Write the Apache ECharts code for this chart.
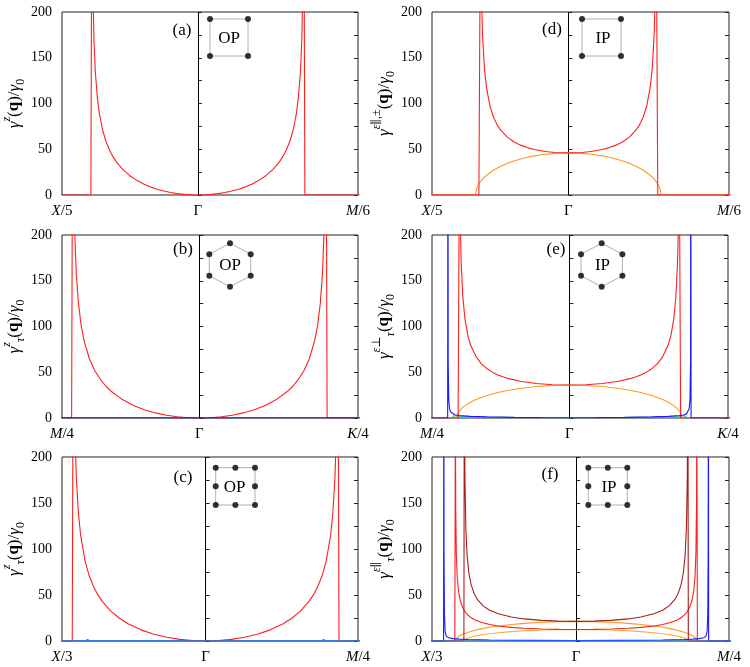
<!DOCTYPE html>
<html><head><meta charset="utf-8">
<script src="https://cdn.jsdelivr.net/npm/echarts@6/dist/echarts.min.js"></script>
<style>html,body{margin:0;padding:0;background:#fff}#c{width:750px;height:667px}</style>
</head><body><div id="c"></div>
<script>
// ---------- DATA (|q| in units of pi/a for square, |GM| for hex; value gamma/gamma0) ----------
// x-axis ranges and tick labels
const xRangeA = [-0.2, 0.2357];      // X/5 .. M/6
const xRangeB = [-0.25, 0.2887];     // M/4 .. K/4
const xRangeC = [-0.3333, 0.3536];   // X/3 .. M/4
const xTicksA = ['X/5', 'Γ', 'M/6'];
const xTicksB = ['M/4', 'Γ', 'K/4'];
const xTicksC = ['X/3', 'Γ', 'M/4'];
const yTicks = [0, 50, 100, 150, 200];

// (a) OP square, red
const qA_red = [0, 0.01, 0.02, 0.03, 0.04, 0.05, 0.06, 0.07, 0.08, 0.09, 0.10, 0.11, 0.12, 0.125, 0.13, 0.135, 0.14, 0.145, 0.148, 0.151, 0.153, 0.155, 0.156, 0.1575, 0.26];
const gA_red = [0, 0.16, 0.65, 1.5, 2.7, 4.3, 6.3, 8.9, 12.1, 16.0, 21.1, 27.5, 36.2, 41.9, 49, 57.9, 70.2, 89, 107, 135, 170, 247, 350, 0, 0];

// (b) OP hex, red + blue
const qB_red = [0, 0.02, 0.04, 0.06, 0.08, 0.10, 0.12, 0.14, 0.16, 0.17, 0.18, 0.19, 0.20, 0.21, 0.215, 0.22, 0.224, 0.227, 0.229, 0.2305, 0.2325, 0.3];
const gB_red = [0, 0.33, 1.33, 3.05, 5.57, 9.06, 13.75, 20.1, 28.9, 34.7, 42.0, 51.4, 64.5, 84.8, 100.6, 124.7, 157.5, 204, 267, 382, 0, 0];
const qB_blue = [0, 0.3];
const gB_blue = [0, 0];

// (c) OP square (8-atom cell), red + blue + light blue
const qC_red = [0, 0.03, 0.06, 0.09, 0.12, 0.15, 0.18, 0.20, 0.22, 0.24, 0.25, 0.26, 0.27, 0.28, 0.29, 0.295, 0.30, 0.303, 0.305, 0.307, 0.3095, 0.4];
const gC_red = [0, 0.43, 1.73, 4.0, 7.4, 12.1, 18.8, 24.7, 32.5, 43.1, 50.1, 59.0, 70.6, 87.3, 114.8, 137.8, 177, 220, 273, 391, 0, 0];
const qC_blue = [0, 0.4];
const gC_blue = [0, 0];
const qC_lblue = [0, 0.268, 0.274, 0.28, 0.4];
const gC_lblue = [0, 0, 1.8, 0, 0];

// (d) IP square, red (perp) + orange (par)
const qD_red = [0, 0.01, 0.02, 0.03, 0.04, 0.05, 0.06, 0.07, 0.08, 0.09, 0.10, 0.105, 0.11, 0.115, 0.12, 0.123, 0.126, 0.128, 0.129, 0.1312, 0.26];
const gD_red = [46, 46.1, 46.5, 47.3, 48.3, 49.8, 51.8, 54.5, 58.2, 63.5, 71.6, 77.5, 85.5, 97.3, 117, 137.6, 177, 237, 304, 0, 0];
const qD_orange = [0, 0.02, 0.04, 0.05, 0.06, 0.07, 0.08, 0.09, 0.10, 0.11, 0.12, 0.125, 0.13, 0.133, 0.135, 0.136, 0.26];
const gD_orange = [46, 45.5, 44.0, 42.8, 41.3, 39.4, 37.2, 34.5, 31.2, 27.0, 21.6, 18.1, 13.5, 9.6, 5.6, 0, 0];

// (e) IP hex, red + orange + blue + cyan
const qE_red = [0, 0.03, 0.06, 0.09, 0.11, 0.12, 0.13, 0.14, 0.15, 0.16, 0.17, 0.18, 0.185, 0.19, 0.194, 0.197, 0.199, 0.2, 0.2025, 0.3];
const gE_red = [36, 36.4, 37.7, 40.2, 43.0, 44.8, 47.1, 50.1, 53.9, 59.2, 67.1, 80.0, 90.8, 108, 133.5, 172, 229, 296, 0, 0];
const qE_orange = [0, 0.03, 0.06, 0.09, 0.11, 0.13, 0.15, 0.16, 0.17, 0.18, 0.19, 0.195, 0.2, 0.203, 0.205, 0.2055, 0.3];
const gE_orange = [36, 35.6, 34.4, 32.3, 30.4, 27.8, 24.5, 22.5, 20.1, 17.2, 13.5, 11.1, 7.9, 5.0, 3.0, 0, 0];
const qE_blue = [0, 0.05, 0.1, 0.15, 0.18, 0.2, 0.208, 0.213, 0.216, 0.218, 0.2195, 0.2205, 0.221, 0.2215, 0.3];
const gE_blue = [0.3, 0.4, 0.7, 1.2, 1.8, 2.7, 3.3, 4.5, 6.5, 10, 20, 60, 400, 0, 0];
const qE_cyan = [0, 0.1, 0.17, 0.2, 0.21, 0.215, 0.3];
const gE_cyan = [0.2, 0.5, 1.0, 1.8, 2.5, 0, 0];

// (f) IP square (8-atom cell), red + dark red + two oranges + blue + light blue
const qF_red = [0, 0.04, 0.08, 0.12, 0.15, 0.18, 0.2, 0.22, 0.235, 0.245, 0.255, 0.262, 0.268, 0.272, 0.275, 0.277, 0.2785, 0.2792, 0.2805, 0.4];
const gF_red = [12.5, 12.6, 13.05, 13.8, 14.8, 16.3, 17.9, 20.3, 23.1, 26.0, 30.5, 35.9, 44.0, 54.3, 69.9, 93.7, 147, 270, 0, 0];
const qF_dred = [0, 0.04, 0.08, 0.12, 0.15, 0.18, 0.2, 0.215, 0.228, 0.236, 0.243, 0.248, 0.252, 0.255, 0.257, 0.258, 0.2585, 0.2595, 0.4];
const gF_dred = [21.3, 21.6, 22.4, 24.0, 26.1, 29.6, 33.5, 38.2, 44.9, 51.7, 61.6, 73.9, 92.2, 121.8, 171.6, 242.6, 343, 0, 0];
const qF_orange1 = [0, 0.04, 0.08, 0.12, 0.15, 0.18, 0.2, 0.22, 0.24, 0.255, 0.265, 0.272, 0.277, 0.2795, 0.4];
const gF_orange1 = [21.3, 21.1, 20.4, 19.2, 18.0, 16.3, 14.9, 13.2, 10.9, 8.7, 6.8, 4.9, 2.9, 0, 0];
const qF_orange2 = [0, 0.04, 0.08, 0.12, 0.15, 0.18, 0.2, 0.22, 0.235, 0.245, 0.252, 0.256, 0.2585, 0.259, 0.4];
const gF_orange2 = [12.5, 12.35, 11.9, 11.1, 10.2, 9.0, 7.9, 6.6, 5.3, 4.0, 2.9, 1.9, 0.8, 0, 0];
const qF_blue = [0, 0.1, 0.2, 0.25, 0.27, 0.285, 0.295, 0.3, 0.303, 0.3045, 0.3055, 0.306, 0.3065, 0.4];
const gF_blue = [0.5, 0.7, 1.1, 1.6, 2.0, 2.6, 3.5, 5, 10, 30, 100, 400, 0, 0];
const qF_lblue = [0, 0.4];
const gF_lblue = [0, 0];

// insets (lattice sketches)
const sqOutline = [[0,0],[1,0],[1,1],[0,1],[0,0]];
const sqDots = [[0,0],[1,0],[1,1],[0,1]];
const hexOutline = [[0,1],[0.866,0.5],[0.866,-0.5],[0,-1],[-0.866,-0.5],[-0.866,0.5],[0,1]];
const hexDots = [[0,1],[0.866,0.5],[0.866,-0.5],[0,-1],[-0.866,-0.5],[-0.866,0.5]];
const sq8Outline = [[0,0],[2,0],[2,2],[0,2],[0,0]];
const sq8Dots = [[0,0],[1,0],[2,0],[0,1],[2,1],[0,2],[1,2],[2,2]];

// ---------- BUILD ----------
const SERIF = "'Liberation Serif','DejaVu Serif',serif";
const RED = '#ff1f1f', ORANGE = '#ff9a20', DRED = '#a81c1c', BLUE = '#1a1aff', LBLUE = '#1e90ff', CYAN = '#20d0d0';

function mirror(qs, vs) {
  const out = [];
  for (let i = qs.length - 1; i >= 0; i--) if (qs[i] !== 0) out.push([-qs[i], vs[i]]);
  for (let i = 0; i < qs.length; i++) out.push([qs[i], vs[i]]);
  return out;
}

const LH = 26;
const rich = {
  g: {fontFamily: SERIF, fontStyle: 'italic', fontSize: 17, color: '#000', lineHeight: LH},
  n: {fontFamily: SERIF, fontSize: 17, color: '#000', lineHeight: LH},
  b: {fontFamily: SERIF, fontSize: 17, fontWeight: 'bold', color: '#000', lineHeight: LH},
  sup: {fontFamily: SERIF, fontStyle: 'italic', fontSize: 12, color: '#000', verticalAlign: 'top', lineHeight: LH},
  supn: {fontFamily: SERIF, fontSize: 12, color: '#000', verticalAlign: 'top', lineHeight: LH},
  sub: {fontFamily: SERIF, fontStyle: 'italic', fontSize: 12, color: '#000', verticalAlign: 'bottom', lineHeight: LH},
  subn: {fontFamily: SERIF, fontSize: 12, color: '#000', verticalAlign: 'bottom', lineHeight: LH}
};
const xrich = {
  i: {fontFamily: SERIF, fontStyle: 'italic', fontSize: 15, color: '#000'},
  n: {fontFamily: SERIF, fontSize: 15, color: '#000'}
};

const panels = [
  {grid: {left: 62, top: 12, width: 296, height: 183}, xr: xRangeA, xt: xTicksA,
   yname: '{g|γ}{sup|z}{n|(}{b|q}{n|)/}{g|γ}{subn|0}', label: '(a)', lpos: [182, 31],
   inset: {grid: {left: 210, top: 19, width: 38, height: 37}, xr: [0,1], yr: [0,1], outline: sqOutline, dots: sqDots, text: 'OP', tpos: [229, 39]},
   curves: [[qA_red, gA_red, RED]]},
  {grid: {left: 432, top: 12, width: 297, height: 183}, xr: xRangeA, xt: xTicksA,
   yname: '{g|γ}{sup|ε}{supn|∥,±}{n|(}{b|q}{n|)/}{g|γ}{subn|0}', label: '(d)', lpos: [552, 30],
   inset: {grid: {left: 582, top: 19, width: 39, height: 37}, xr: [0,1], yr: [0,1], outline: sqOutline, dots: sqDots, text: 'IP', tpos: [603, 39]},
   curves: [[qD_orange, gD_orange, ORANGE], [qD_red, gD_red, RED]]},
  {grid: {left: 62, top: 235, width: 296, height: 183}, xr: xRangeB, xt: xTicksB,
   yname: '{g|γ}{sup|z}{sub|τ}{n|(}{b|q}{n|)/}{g|γ}{subn|0}', label: '(b)', lpos: [183, 250],
   inset: {grid: {left: 206.1, top: 243.3, width: 47.8, height: 43.4}, xr: [-1,1], yr: [-1,1], outline: hexOutline, dots: hexDots, text: 'OP', tpos: [230, 266]},
   curves: [[qB_red, gB_red, RED], [qB_blue, gB_blue, '#0000c8']]},
  {grid: {left: 432, top: 235, width: 296, height: 183}, xr: xRangeB, xt: xTicksB,
   yname: '{g|γ}{sup|ε}{supn|⊥}{sub|τ}{n|(}{b|q}{n|)/}{g|γ}{subn|0}', label: '(e)', lpos: [556, 250],
   inset: {grid: {left: 577.8, top: 243.3, width: 47.8, height: 43.4}, xr: [-1,1], yr: [-1,1], outline: hexOutline, dots: hexDots, text: 'IP', tpos: [602.5, 266]},
   curves: [[qE_cyan, gE_cyan, CYAN], [qE_orange, gE_orange, ORANGE], [qE_red, gE_red, RED], [qE_blue, gE_blue, BLUE]]},
  {grid: {left: 62, top: 457, width: 296, height: 184}, xr: xRangeC, xt: xTicksC,
   yname: '{g|γ}{sup|z}{sub|τ}{n|(}{b|q}{n|)/}{g|γ}{subn|0}', label: '(c)', lpos: [183, 478],
   inset: {grid: {left: 215.7, top: 467.7, width: 39.3, height: 37.3}, xr: [0,2], yr: [0,2], outline: sq8Outline, dots: sq8Dots, text: 'OP', tpos: [234.5, 487.5]},
   curves: [[qC_red, gC_red, RED], [qC_blue, gC_blue, '#2a3acc'], [qC_lblue, gC_lblue, LBLUE]]},
  {grid: {left: 432, top: 457, width: 297, height: 184}, xr: xRangeC, xt: xTicksC,
   yname: '{g|γ}{sup|ε}{supn|∥}{sub|τ}{n|(}{b|q}{n|)/}{g|γ}{subn|0}', label: '(f)', lpos: [550, 475],
   inset: {grid: {left: 588.3, top: 467.7, width: 39, height: 37.3}, xr: [0,2], yr: [0,2], outline: sq8Outline, dots: sq8Dots, text: 'IP', tpos: [609, 487.5]},
   curves: [[qF_orange2, gF_orange2, '#ffb030'], [qF_orange1, gF_orange1, ORANGE], [qF_red, gF_red, RED], [qF_dred, gF_dred, DRED], [qF_blue, gF_blue, BLUE], [qF_lblue, gF_lblue, LBLUE]]}
];

const option = {animation: false, backgroundColor: '#fff', grid: [], xAxis: [], yAxis: [], series: [], graphic: []};

panels.forEach((p, i) => {
  option.grid.push(Object.assign({show: true, borderColor: '#222', borderWidth: 1, containLabel: false}, p.grid));
  const [xmin, xmax] = p.xr;
  option.xAxis.push({
    type: 'value', gridIndex: i, min: xmin, max: xmax,
    axisLine: {show: false}, axisTick: {show: false}, splitLine: {show: false},
    axisLabel: {
      customValues: [xmin, 0, xmax], showMinLabel: true, showMaxLabel: true, margin: 9,
      rich: xrich,
      formatter: v => {
        const t = Math.abs(v - xmin) < 1e-9 ? p.xt[0] : (Math.abs(v) < 1e-9 ? p.xt[1] : p.xt[2]);
        if (t === 'Γ') return '{n|Γ}';
        return '{i|' + t[0] + '}{n|' + t.slice(1) + '}';
      }
    }
  });
  const yCommon = {type: 'value', gridIndex: i, min: 0, max: 200, interval: 25, splitLine: {show: false},
    axisLine: {show: false}, axisTick: {show: true, inside: true, length: 4, lineStyle: {color: '#222'}}};
  option.yAxis.push(Object.assign({}, yCommon, {
    position: 'left',
    axisLabel: {fontFamily: SERIF, fontSize: 14, color: '#000', margin: 10,
      formatter: v => yTicks.indexOf(v) >= 0 ? String(v) : ''},
    name: p.yname, nameLocation: 'middle', nameRotate: 90, nameGap: 34,
    nameTextStyle: {rich: rich}
  }));
  option.yAxis.push(Object.assign({}, yCommon, {position: 'right', axisLabel: {show: false}}));
  p.curves.forEach((c, k) => {
    const s = {
      type: 'line', xAxisIndex: i, yAxisIndex: 2 * i, data: mirror(c[0], c[1]),
      showSymbol: false, symbol: 'none', smooth: false, clip: true, silent: true,
      lineStyle: {color: c[2], width: 1.1}, z: 3 + k
    };
    if (k === 0) {
      s.markLine = {silent: true, symbol: 'none', label: {show: false}, animation: false,
        lineStyle: {color: '#000', width: 1, type: 'solid'}, data: [{xAxis: 0}], z: 2};
    }
    option.series.push(s);
  });
  option.graphic.push({type: 'text', x: p.lpos[0], y: p.lpos[1], z: 100,
    style: {text: p.label, font: '17px ' + SERIF, fill: '#000', align: 'center', verticalAlign: 'middle'}});
});

panels.forEach((p, i) => {
  const gi = panels.length + i;
  const ins = p.inset;
  option.grid.push(Object.assign({show: false}, ins.grid));
  option.xAxis.push({type: 'value', gridIndex: gi, min: ins.xr[0], max: ins.xr[1], show: false});
  option.yAxis.push({type: 'value', gridIndex: gi, min: ins.yr[0], max: ins.yr[1], show: false});
  const xi = option.xAxis.length - 1, yi = option.yAxis.length - 1;
  option.series.push({type: 'line', xAxisIndex: xi, yAxisIndex: yi, data: ins.outline, symbol: 'none', clip: false, silent: true,
    lineStyle: {color: '#b0b0b0', width: 1}, z: 10});
  option.series.push({type: 'scatter', xAxisIndex: xi, yAxisIndex: yi, data: ins.dots, symbol: 'circle', symbolSize: 6, clip: false, silent: true,
    itemStyle: {color: '#000'}, z: 11});
  option.graphic.push({type: 'text', x: ins.tpos[0], y: ins.tpos[1], z: 100,
    style: {text: ins.text, font: '17px ' + SERIF, fill: '#000', align: 'center', verticalAlign: 'middle'}});
});

const chart = echarts.init(document.getElementById('c'), null, {renderer: 'canvas'});
chart.setOption(option);
</script>
</body></html>
